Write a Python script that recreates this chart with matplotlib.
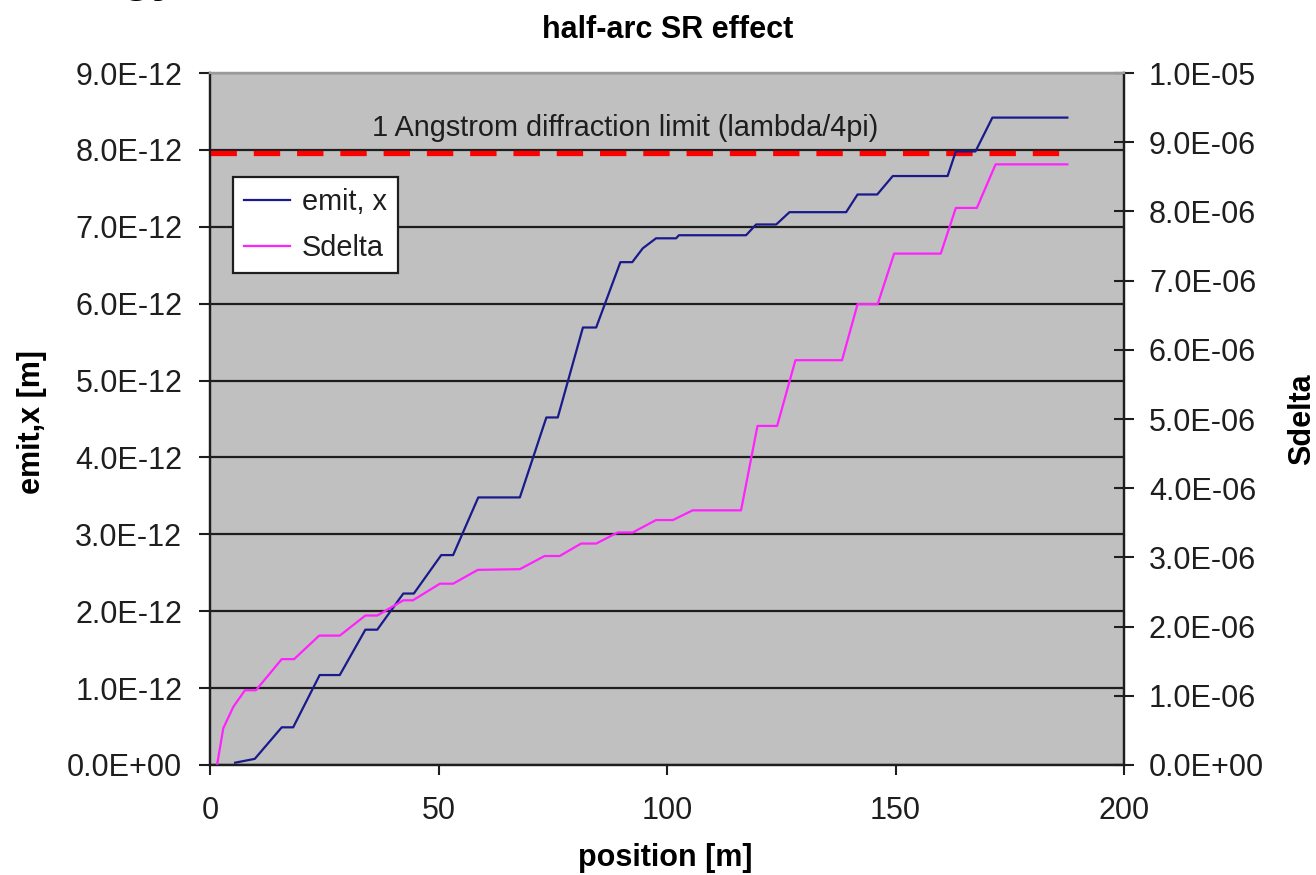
import matplotlib
matplotlib.use("Agg")
import matplotlib.pyplot as plt
from matplotlib.ticker import FuncFormatter, FixedLocator

plt.rcParams['font.family'] = ['Liberation Sans', 'DejaVu Sans']

# ---- data ----
pos_emit = [5.5, 9.8, 15.7, 18.2, 24.0, 28.4, 34.0, 36.6, 42.3, 44.6, 50.6, 53.2,
            58.7, 67.8, 73.6, 76.1, 81.6, 84.5, 89.8, 92.4, 94.7, 97.6, 102.0,
            102.6, 117.3, 119.5, 123.9, 126.8, 139.2, 141.7, 146.0, 149.4, 161.4,
            163.2, 167.5, 171.2, 187.6]
emit_x = [0.03, 0.08, 0.49, 0.49, 1.17, 1.17, 1.76, 1.76, 2.23, 2.23, 2.73, 2.73,
          3.48, 3.48, 4.52, 4.52, 5.69, 5.69, 6.54, 6.54, 6.72, 6.85, 6.85,
          6.89, 6.89, 7.03, 7.03, 7.19, 7.19, 7.42, 7.42, 7.66, 7.66,
          7.98, 7.98, 8.42, 8.42]  # x 1e-12 m

pos_sd = [1.6, 2.9, 5.1, 7.65, 10.05, 15.7, 18.4, 23.9, 28.4, 34.0, 36.6, 42.3,
          44.4, 50.3, 53.2, 58.6, 67.8, 73.2, 76.5, 81.2, 84.5, 89.2, 92.5, 97.6,
          101.3, 105.6, 116.2, 119.8, 124.1, 128.1, 138.3, 141.7, 146.1, 149.7,
          159.9, 163.2, 167.8, 171.9, 187.6]
sdelta = [0.02, 0.53, 0.84, 1.08, 1.08, 1.53, 1.53, 1.87, 1.87, 2.16, 2.16, 2.38,
          2.38, 2.62, 2.62, 2.82, 2.83, 3.02, 3.02, 3.20, 3.20, 3.36, 3.36, 3.54,
          3.54, 3.68, 3.68, 4.90, 4.90, 5.85, 5.85, 6.66, 6.66, 7.39,
          7.39, 8.05, 8.05, 8.68, 8.68]  # x 1e-6

limit_pos = [0.0, 187.6]
limit_val = 1e-10 / (4 * 3.141592653589793)  # lambda/4pi, lambda = 1 Angstrom

x_ticks = [0, 50, 100, 150, 200]
left_ticks = [i * 1e-12 for i in range(10)]
right_ticks = [i * 1e-6 for i in range(11)]

emit_vals = [v * 1e-12 for v in emit_x]
sd_vals = [v * 1e-6 for v in sdelta]

# ---- figure ----
W, H = 1316, 875
fig = plt.figure(figsize=(W / 100, H / 100), dpi=100)
L, R, B, T = 210, 1124, 765, 73
ax = fig.add_axes([L / W, 1 - B / H, (R - L) / W, (B - T) / H])
ax.set_facecolor('#C0C0C0')
ax.set_xlim(0, 200)
ax.set_ylim(0, 9e-12)
ax2 = ax.twinx()
ax2.set_ylim(0, 1e-5)

fmt = FuncFormatter(lambda v, p: '{:.1E}'.format(v))
ax.yaxis.set_major_locator(FixedLocator(left_ticks))
ax.yaxis.set_major_formatter(fmt)
ax2.yaxis.set_major_locator(FixedLocator(right_ticks))
ax2.yaxis.set_major_formatter(fmt)
ax.xaxis.set_major_locator(FixedLocator(x_ticks))

tc = '#1e1e1e'
ax.tick_params(axis='y', direction='out', length=8, width=1.5, pad=12,
               labelsize=22, colors=tc)
ax.tick_params(axis='x', direction='out', length=7, width=1.5, pad=15,
               labelsize=22, colors=tc)
ax2.tick_params(axis='y', direction='inout', length=14, width=1.5, pad=11,
                labelsize=22, colors=tc)

ax.set_axisbelow(True)
ax.yaxis.grid(True, color='#1e1e1e', linewidth=1.6)

for a in (ax, ax2):
    a.spines['left'].set_color('#1e1e1e')
    a.spines['right'].set_color('#1e1e1e')
    a.spines['bottom'].set_color('#1e1e1e')
    a.spines['top'].set_color('#9a9a9a')
    for s in a.spines.values():
        s.set_linewidth(1.6)

# diffraction limit
ax.plot(limit_pos, [limit_val, limit_val], color='#FF0000', linewidth=3.8,
        dashes=(5.0, 3.2), solid_capstyle='butt', dash_capstyle='butt',
        zorder=3)
ax.text(0.4540, 8.28e-12,
        '1 Angstrom diffraction limit (lambda/4pi)', ha='center', va='center',
        fontsize=20.8, color='#1e1e1e',
        transform=ax.get_yaxis_transform())

l1, = ax.plot(pos_emit, emit_vals, color='#1a1a8c', linewidth=1.6, zorder=4)
l2, = ax2.plot(pos_sd, sd_vals, color='#FF22FF', linewidth=1.6, zorder=4)

leg = ax2.legend([l1, l2], ['emit, x', 'Sdelta'], loc='upper left',
                 bbox_to_anchor=(233 / W, 1 - 177 / H),
                 bbox_transform=fig.transFigure, borderaxespad=0,
                 fancybox=False, framealpha=1, edgecolor='#1e1e1e',
                 fontsize=20.8, handlelength=1.6, handletextpad=0.4,
                 borderpad=0.38, labelspacing=0.62)
leg.get_frame().set_linewidth(1.6)
for t in leg.get_texts():
    t.set_color('#1e1e1e')

ax.text(0.501, 1.062, 'half-arc SR effect', transform=ax.transAxes,
        ha='center', va='center', fontsize=22, fontweight='bold')
ax.set_xlabel('position [m]', fontsize=22, fontweight='bold')
ax.xaxis.label.set_va('center')
ax.xaxis.set_label_coords(0.498, -0.135)
ax.set_ylabel('emit,x [m]', fontsize=22, fontweight='bold')
ax.yaxis.label.set_va('center')
ax.yaxis.set_label_coords(-0.1947, 0.4957)
ax2.set_ylabel('Sdelta', fontsize=22, fontweight='bold', rotation=90)
ax2.yaxis.label.set_va('center')
ax2.yaxis.set_label_coords(1.1945, 0.5)

# fragment of a large heading cut off at the top edge of the image
fig.text(122 / W, 1 + 9 / H, 'gy', fontsize=35, fontweight='bold',
         ha='left', va='baseline')

fig.savefig('out.png', dpi=100)
